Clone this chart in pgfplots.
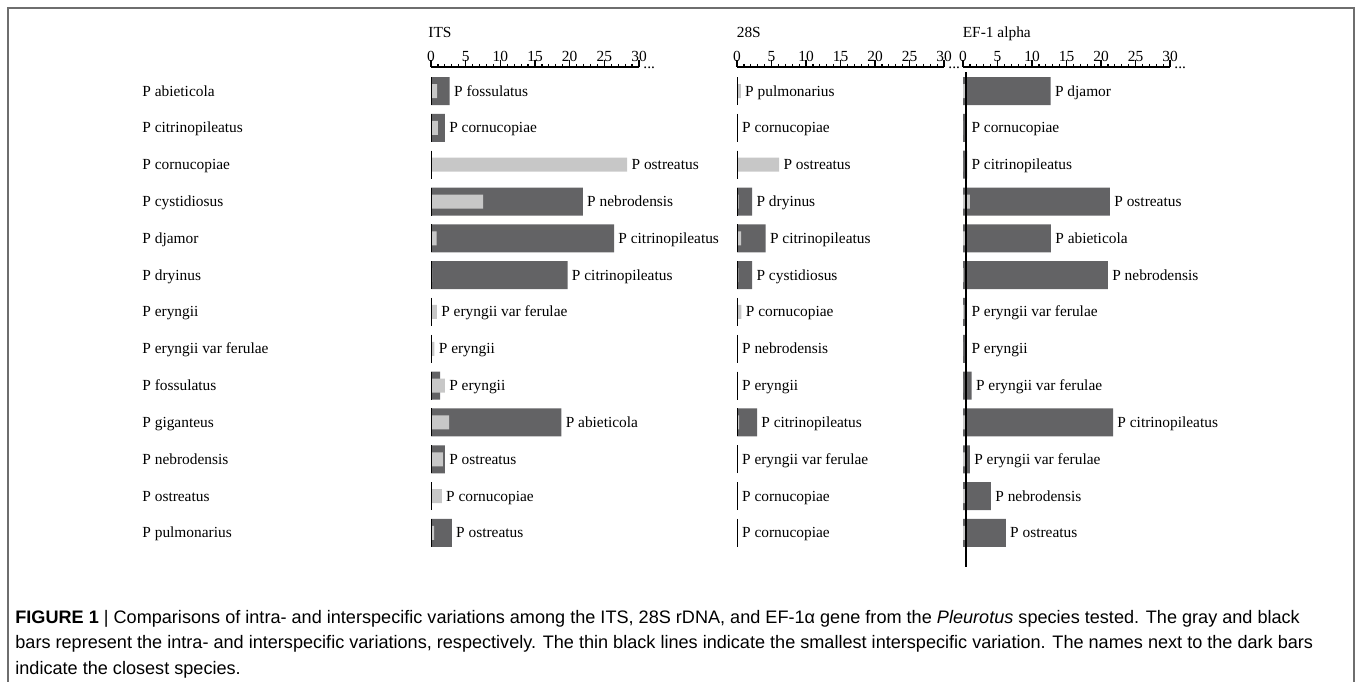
\documentclass[border=0pt]{standalone}
\usepackage{fontspec}
\setmainfont{Liberation Serif}
\newfontfamily\capfont{Liberation Sans}
\usepackage{pgfplots}
\usepackage{pgfplotstable}
\pgfplotsset{compat=1.18}

\definecolor{darkbar}{RGB}{99,99,101}
\definecolor{lightbar}{RGB}{199,199,199}
\definecolor{framegray}{RGB}{110,110,110}

% r = row (1 = top), dark = interspecific, light = intraspecific,
% line = smallest interspecific, lab = where the closest-species name goes
\pgfplotstableread[col sep=comma, row sep=\\]{
r,dark,light,line,lab,name\\
1,2.7,0.9,0.05,2.7,P fossulatus\\
2,2.0,1.0,0.05,2.0,P cornucopiae\\
3,0,28.3,0.05,28.3,P ostreatus\\
4,21.9,7.5,0.05,21.9,P nebrodensis\\
5,26.4,0.8,0.05,26.4,P citrinopileatus\\
6,19.7,0.15,0.05,19.7,P citrinopileatus\\
7,0,0.85,0.05,0.85,P eryngii var ferulae\\
8,0,0.5,0.05,0.5,P eryngii\\
9,1.3,2.0,0.05,2.0,P eryngii\\
10,18.8,2.6,0.05,18.8,P abieticola\\
11,2.0,1.7,0.05,2.0,P ostreatus\\
12,0,1.55,0.05,1.55,P cornucopiae\\
13,3.0,0.45,0.05,3.0,P ostreatus\\
}\itsdata

\pgfplotstableread[col sep=comma, row sep=\\]{
r,dark,light,line,lab,name\\
1,0,0.55,0.05,0.55,P pulmonarius\\
2,0,0,0.05,0.1,P cornucopiae\\
3,0,6.1,0.05,6.1,P ostreatus\\
4,2.2,0.25,0.05,2.2,P dryinus\\
5,4.15,0.6,0.05,4.15,P citrinopileatus\\
6,2.2,0.2,0.05,2.2,P cystidiosus\\
7,0,0.65,0.05,0.65,P cornucopiae\\
8,0,0,0.05,0.1,P nebrodensis\\
9,0,0,0.05,0.1,P eryngii\\
10,2.9,0.3,0.05,2.9,P citrinopileatus\\
11,0,0,0.05,0.1,P eryngii var ferulae\\
12,0,0,0.05,0.1,P cornucopiae\\
13,0,0,0.05,0.1,P cornucopiae\\
}\ssdata

\pgfplotstableread[col sep=comma, row sep=\\]{
r,dark,light,line,lab,name\\
1,12.7,0.3,0.43,12.7,P djamor\\
2,0.5,0,0.43,0.6,P cornucopiae\\
3,0.6,0,0.43,0.6,P citrinopileatus\\
4,21.3,1.0,0.43,21.3,P ostreatus\\
5,12.75,0.3,0.43,12.75,P abieticola\\
6,21.0,0.1,0.43,21.0,P nebrodensis\\
7,0.5,0.2,0.43,0.6,P eryngii var ferulae\\
8,0.4,0,0.43,0.6,P eryngii\\
9,1.25,0,0.43,1.25,P eryngii var ferulae\\
10,21.75,0.5,0.43,21.75,P citrinopileatus\\
11,1.0,0.4,0.43,1.0,P eryngii var ferulae\\
12,4.05,0.5,0.43,4.05,P nebrodensis\\
13,6.2,0.5,0.43,6.2,P ostreatus\\
}\efdata

\pgfplotsset{
  panel/.style={
    y=18.415pt,
    xmin=0, xmax=30, ymin=-13.5, ymax=-0.348,
    clip=false,
    axis x line*=top,
    axis y line*=left,
    y axis line style={draw=none},
    ytick style={draw=none},
    x axis line style={line width=1.2pt, -},
    xtick={0,5,...,30},
    minor x tick num=4,
    tick align=outside,
    major tick length=3.5pt,
    minor tick length=1.6pt,
    xtick style={line width=0.8pt, black},
    minor x tick style={line width=0.6pt},
    /pgf/number format/assume math mode=true,
    ticklabel style={font=\fontsize{7.7}{9}\selectfont},
    xticklabel style={anchor=base, inner sep=0pt, yshift=-1pt},
    ytick=\empty,
  },
  darkbars/.style={xbar, bar shift=0pt, bar width=14pt, fill=darkbar, draw=none},
  lightbars/.style={xbar, bar shift=0pt, bar width=7pt, fill=lightbar, draw=none},
  minline/.style={only marks, mark=|, mark size=7pt, mark options={line width=0.6pt, black}},
  names/.style={draw=none, mark=none,
    nodes near coords={\strut\pgfplotspointmeta},
    point meta=explicit symbolic,
    nodes near coords align=horizontal,
    every node near coord/.append style={anchor=west, inner sep=0pt, xshift=2pt, yshift=-0.7pt,
      font=\fontsize{7.7}{9}\selectfont, black}},
}

\begin{document}
\begin{tikzpicture}
\useasboundingbox (0,0) rectangle (679pt,340.5pt);
\draw[framegray, line width=0.6pt] (4pt,-2pt) -- (4pt,336.5pt) -- (677pt,336.5pt) -- (677pt,-2pt);

% ITS
\begin{axis}[panel, x=3.4667pt, at={(215.5pt,307pt)}, anchor=north west,
  ytick={-1,-2,-3,-4,-5,-6,-7,-8,-9,-10,-11,-12,-13},
  yticklabels={P abieticola, P citrinopileatus, P cornucopiae, P cystidiosus,
    P djamor, P dryinus, P eryngii, P eryngii var ferulae, P fossulatus,
    P giganteus, P nebrodensis, P ostreatus, P pulmonarius},
  yticklabel style={anchor=base west, inner sep=0pt, xshift=-141pt, yshift=-2.5pt}]
  \addplot[minline] table[x=line, y expr=-\thisrow{r}] {\itsdata};
  \addplot[darkbars] table[x=dark, y expr=-\thisrow{r}] {\itsdata};
  \addplot[lightbars] table[x=light, y expr=-\thisrow{r}] {\itsdata};
  \addplot[names] table[x=lab, y expr=-\thisrow{r}, meta=name] {\itsdata};
  \node[anchor=base west, inner sep=0pt, font=\fontsize{7.7}{9}\selectfont]
    at ([shift={(-1.5pt,14.5pt)}]rel axis cs:0,1) {ITS};
  \node[anchor=base west, inner sep=0pt, font=\fontsize{7.7}{9}\selectfont]
    at ([shift={(2pt,-0.7pt)}]rel axis cs:1,1) {...};
\end{axis}

% 28S
\begin{axis}[panel, x=3.45pt, at={(368.5pt,307pt)}, anchor=north west]
  \addplot[minline] table[x=line, y expr=-\thisrow{r}] {\ssdata};
  \addplot[darkbars] table[x=dark, y expr=-\thisrow{r}] {\ssdata};
  \addplot[lightbars] table[x=light, y expr=-\thisrow{r}] {\ssdata};
  \addplot[names] table[x=lab, y expr=-\thisrow{r}, meta=name] {\ssdata};
  \node[anchor=base west, inner sep=0pt, font=\fontsize{7.7}{9}\selectfont]
    at ([shift={(-0.3pt,14.5pt)}]rel axis cs:0,1) {28S};
  \node[anchor=base west, inner sep=0pt, font=\fontsize{7.7}{9}\selectfont]
    at ([shift={(2pt,-0.7pt)}]rel axis cs:1,1) {...};
\end{axis}

% EF-1 alpha
\begin{axis}[panel, x=3.45pt, at={(481.5pt,307pt)}, anchor=north west]
  \addplot[darkbars] table[x=dark, y expr=-\thisrow{r}] {\efdata};
  \addplot[lightbars] table[x=light, y expr=-\thisrow{r}] {\efdata};
  \addplot[black, line width=0.6pt] coordinates {(0.43,-0.484) (0.43,-13.92)};
  \addplot[black, line width=1.3pt] coordinates {(0.43,-13.65) (0.43,-13.92)};
  \addplot[names] table[x=lab, y expr=-\thisrow{r}, meta=name] {\efdata};
  \node[anchor=base west, inner sep=0pt, font=\fontsize{7.7}{9}\selectfont]
    at ([shift={(-0.3pt,14.5pt)}]rel axis cs:0,1) {EF-1 alpha};
  \node[anchor=base west, inner sep=0pt, font=\fontsize{7.7}{9}\selectfont]
    at ([shift={(2pt,-0.7pt)}]rel axis cs:1,1) {...};
\end{axis}

% caption (base = baseline of its last line)
\node[anchor=base west, inner sep=0pt, align=left,
  font=\capfont\fontsize{9.05}{12.75}\selectfont] at (7.5pt,3.5pt)
  {\textbf{FIGURE 1} | Comparisons of intra- and interspecific variations among the ITS, 28S rDNA, and EF-1α gene from the \textit{Pleurotus} species tested. The gray and black\\
   bars represent the intra- and interspecific variations, respectively. The thin black lines indicate the smallest interspecific variation. The names next to the dark bars\\
   indicate the closest species.};
\end{tikzpicture}
\end{document}
